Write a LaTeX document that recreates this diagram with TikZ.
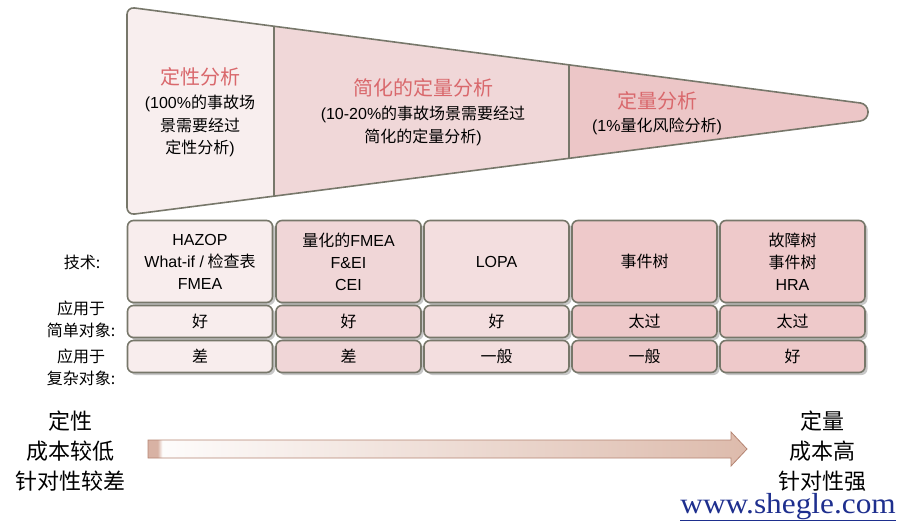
\documentclass[tikz,border=0pt]{standalone}
\usepackage{fontspec}
\setmainfont{Noto Sans CJK SC}
\newfontfamily\urlfont{Liberation Serif}
\newfontfamily\lat{Liberation Sans}
\usetikzlibrary{calc}
\definecolor{edge}{HTML}{77776A}
\definecolor{fa}{HTML}{F8EEEE}
\definecolor{fb}{HTML}{F0D7D8}
\definecolor{fc}{HTML}{ECC6C7}
\definecolor{ca}{HTML}{F8EDED}
\definecolor{cb}{HTML}{F0D6D7}
\definecolor{cc}{HTML}{F3DEDF}
\definecolor{cd}{HTML}{EEC9CA}
\definecolor{ce}{HTML}{EEC9CA}
\definecolor{head}{HTML}{D9686C}
\definecolor{tanA}{HTML}{D8B2A4}
\definecolor{tanB}{HTML}{DDBBAC}
\definecolor{arredge}{HTML}{B48472}
\definecolor{urlblue}{HTML}{1E2F8E}
\pgfdeclarehorizontalshading{arrowshade}{100bp}{color(0bp)=(tanA); color(25bp)=(tanA); color(25.8bp)=(tanA); color(26.2bp)=(white!96!tanA); color(75bp)=(tanB); color(100bp)=(tanB)}
\tikzset{
  headtxt/.style={text=head, font=\fontsize{20}{24}\selectfont, inner sep=0},
  subtxt/.style={align=center, font=\fontsize{16}{22.5}\selectfont, inner sep=0},
  cell/.style={draw=edge, line width=1.6pt, rounded corners=6pt, minimum width=145pt, inner sep=0, align=center,
     font=\fontsize{16}{21.5}\selectfont,
     preaction={fill=black!22, transform canvas={shift={(2.5pt,-2.5pt)}}}},
  lbl/.style={align=center, font=\fontsize{16}{22}\selectfont, inner sep=0},
  big/.style={align=center, font=\fontsize{22}{30}\selectfont, inner sep=0},
  outline/.style={draw=edge, line width=1.6pt}
}
\begin{document}
\begin{tikzpicture}[x=1pt,y=-1pt]
\useasboundingbox (0,0) rectangle (899,524);
% funnel
\coordinate (TL) at (127,7);
\coordinate (TR) at (868,104);
\coordinate (BR) at (868,120);
\coordinate (BL) at (127,215);
\coordinate (d1t) at ($(TL)!0.19838!(TR)$);
\coordinate (d1b) at ($(BL)!0.19838!(BR)$);
\coordinate (d2t) at ($(TL)!0.5965!(TR)$);
\coordinate (d2b) at ($(BL)!0.5965!(BR)$);
\begin{scope}
  \clip[rounded corners=7.5pt] (TL) -- (TR) -- (BR) -- (BL) -- cycle;
  \fill[fa] (120,0) rectangle (d1t |- 0,230);
  \fill[fb] (d1t |- 0,0) rectangle (d2b |- 0,230);
  \fill[fc] (d2t |- 0,0) rectangle (880,230);
\end{scope}
\draw[outline, rounded corners=7.5pt] (TL) -- (TR) -- (BR) -- (BL) -- cycle;
\draw[outline] (d1t) -- (d1b);
\draw[outline] (d2t) -- (d2b);
% funnel texts
\node[headtxt] (h1) at (200,77) {定性分析};
\node[subtxt] (s1) at (200,126) {{\lat(100\%}的事故场\\景需要经过\\定性分析{\lat)}};
\node[headtxt] (h2) at (423,88) {简化的定量分析};
\node[subtxt] (s2) at (423,126) {{\lat(10-20\%}的事故场景需要经过\\简化的定量分析{\lat)}};
\node[headtxt] (h3) at (657,101) {定量分析};
\node[subtxt] (s3) at (657,126) {{\lat(1\%}量化风险分析{\lat)}};
% table
\foreach \c/\x/\col in {1/200/ca,2/348.5/cb,3/496.5/cc,4/644.5/cd,5/792.5/ce}{
  \node[cell, fill=\col, minimum height=82pt] (r1c\c) at (\x,261.5) {};
  \node[cell, fill=\col, minimum height=32pt] (r2c\c) at (\x,321.5) {};
  \node[cell, fill=\col, minimum height=32pt] (r3c\c) at (\x,356.5) {};
}
\node[lbl] (t11) at (r1c1) {{\lat HAZOP}\\{\lat What-if /} 检查表\\{\lat FMEA}};
\node[lbl] (t12) at (r1c2) {量化的{\lat FMEA}\\{\lat F\&EI}\\{\lat CEI}};
\node[lbl] (t13) at (r1c3) {{\lat LOPA}};
\node[lbl] (t14) at (r1c4) {事件树};
\node[lbl] (t15) at (r1c5) {故障树\\事件树\\{\lat HRA}};
\node[lbl] at (r2c1) {好};
\node[lbl] at (r2c2) {好};
\node[lbl] at (r2c3) {好};
\node[lbl] at (r2c4) {太过};
\node[lbl] at (r2c5) {太过};
\node[lbl] at (r3c1) {差};
\node[lbl] at (r3c2) {差};
\node[lbl] at (r3c3) {一般};
\node[lbl] at (r3c4) {一般};
\node[lbl] at (r3c5) {好};
% row labels
\node[lbl] (L1) at (82,262) {技术:};
\node[lbl] (L2) at (81,319) {应用于\\简单对象:};
\node[lbl] (L3) at (81,367) {应用于\\复杂对象:};
% bottom arrow
\coordinate (A1) at (747,449);
\shade[shading=arrowshade, draw=arredge, line width=0.8pt]
  (148,440) -- (731,440) -- (731,432) -- (A1) -- (731,466) -- (731,458) -- (148,458) -- cycle;
\node[big] (left) at (70,451) {定性\\成本较低\\针对性较差};
\node[big] (right) at (822,451) {定量\\成本高\\针对性强};
\node[inner sep=0, anchor=base east, text=urlblue, font=\urlfont\fontsize{29}{30}\selectfont] (url) at (896,513) {\scalebox{1.08}[1]{\underline{www.shegle.com}}};
\end{tikzpicture}
\end{document}
